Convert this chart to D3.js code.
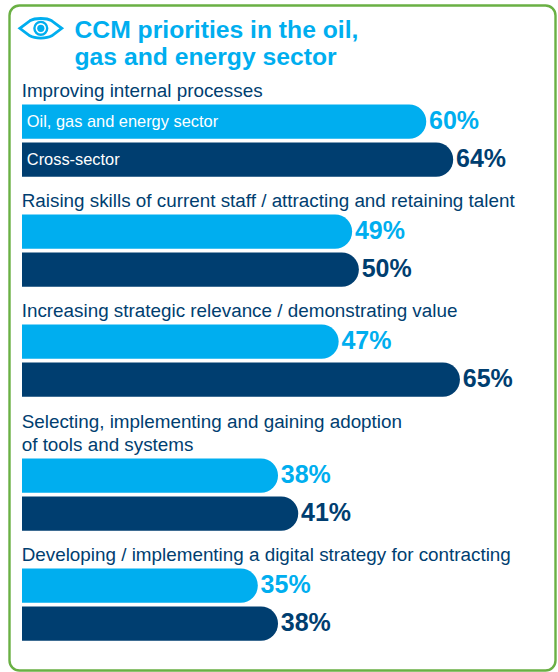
<!DOCTYPE html>
<html><head><meta charset="utf-8">
<style>html,body{margin:0;padding:0;background:#fff}svg{display:block}text{font-family:"Liberation Sans",Arial,sans-serif}</style>
<script src="https://cdn.jsdelivr.net/npm/d3@7"></script></head>
<body><div id="c"></div>
<script>
const titleLines = ["CCM priorities in the oil,", "gas and energy sector"];
const categories = [
  ["Improving internal processes"],
  ["Raising skills of current staff / attracting and retaining talent"],
  ["Increasing strategic relevance / demonstrating value"],
  ["Selecting, implementing and gaining adoption", "of tools and systems"],
  ["Developing / implementing a digital strategy for contracting"]
];
const seriesNames = ["Oil, gas and energy sector", "Cross-sector"];
const oilGas = [60, 49, 47, 38, 35];
const crossSector = [64, 50, 65, 41, 38];
const colors = ["#00aeef", "#003e70"];
const W = 558, H = 672;
const svg = d3.select("#c").append("svg").attr("width", W).attr("height", H);
svg.append("rect").attr("x", 9.5).attr("y", 5.5).attr("width", 546).attr("height", 665)
  .attr("rx", 10).attr("fill", "#fff").attr("stroke", "#6ab044").attr("stroke-width", 2.4);
// eye icon
const eye = svg.append("g").attr("transform", "translate(40.8,28.3)");
eye.append("path").attr("d", "M-21,0L-11,-7.5C-7,-9.8 -3,-9.8 0,-9.8C3,-9.8 7,-9.8 11,-7.5L21,0L11,7.5C7,9.8 3,9.8 0,9.8C-3,9.8 -7,9.8 -11,7.5Z")
  .attr("fill", "none").attr("stroke", colors[0]).attr("stroke-width", 2.8);
eye.append("circle").attr("r", 6.4).attr("fill", "none").attr("stroke", colors[0]).attr("stroke-width", 2.4);
eye.append("circle").attr("r", 3.6).attr("fill", colors[0]);
svg.append("g").selectAll("text").data(titleLines).join("text")
  .attr("x", 74.5).attr("y", (d, i) => 37.5 + i * 27.3).attr("fill", colors[0])
  .attr("font-size", 24.7).attr("font-weight", 700).text(d => d);

const x = d3.scaleLinear().domain([0, 64]).range([22, 453.2]);
const rowH = 34.2, rowStep = 38;
const tops = [];
categories.forEach((c, i) => tops.push(i ? tops[i - 1] + 86 + c.length * 24 : 104.5));
const rows = categories.map((c, i) => ({label: c, top: tops[i], values: [oilGas[i], crossSector[i]]}));
const barPath = (x0, x1, y, h) => {
  const r = h / 2, p = d3.path();
  p.moveTo(x0, y);
  p.lineTo(x1 - r, y);
  p.arc(x1 - r, y + r, r, -Math.PI / 2, Math.PI / 2);
  p.lineTo(x0, y + h);
  p.closePath();
  return p.toString();
};
const g = svg.append("g").selectAll("g").data(rows).join("g");
g.selectAll("text.cat").data(d => d.label.map((t, i) => ({t, y: d.top - 8 - (d.label.length - 1 - i) * 22.5})))
  .join("text").attr("class", "cat").attr("x", 21.7).attr("y", d => d.y)
  .attr("font-size", 18.85).attr("fill", "#003e70").text(d => d.t);
const b = g.selectAll("g.b").data(d => d.values.map((v, s) => ({v, s, y: d.top + s * rowStep}))).join("g").attr("class", "b");
b.append("path").attr("fill", d => colors[d.s]).attr("d", d => barPath(x(0), x(d.v), d.y, rowH));
b.append("text").attr("x", d => x(d.v) + 2.8).attr("y", d => d.y + 24)
  .attr("font-size", 25).attr("font-weight", 700).attr("fill", d => colors[d.s]).text(d => d.v + "%");
svg.append("g").selectAll("text").data(seriesNames).join("text")
  .attr("x", 26.8).attr("y", (d, i) => tops[0] + 22.2 + i * rowStep).attr("fill", "#fff")
  .attr("font-size", 16.4).text(d => d);
</script></body></html>
